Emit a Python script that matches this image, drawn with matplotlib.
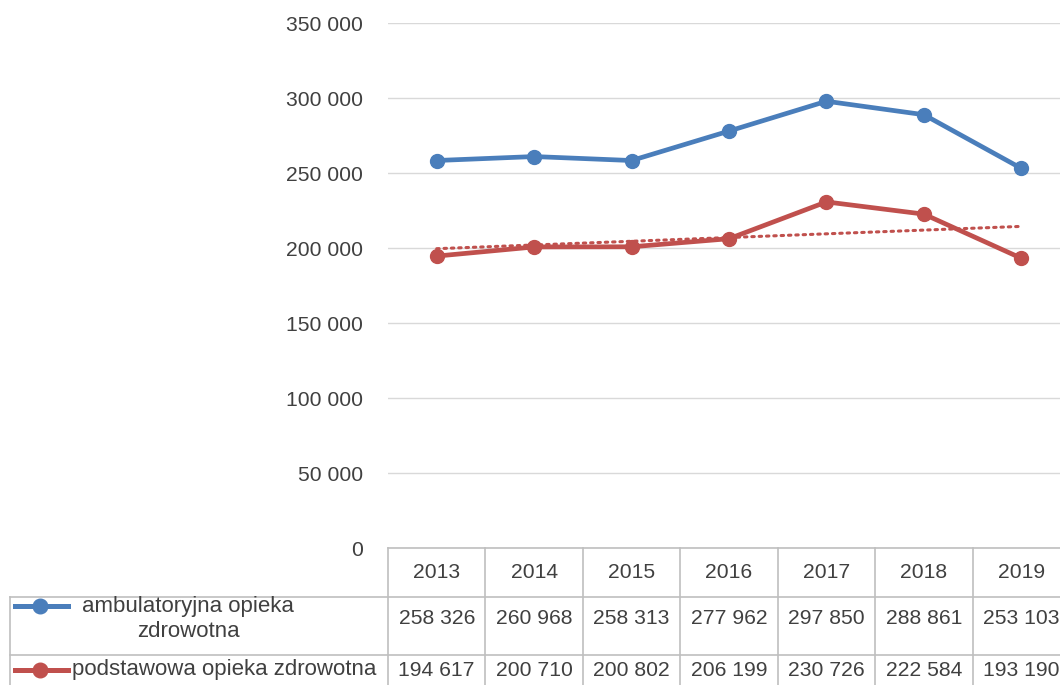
import matplotlib
matplotlib.use("Agg")
import matplotlib.pyplot as plt
import matplotlib.transforms as mtransforms
import numpy as np

plt.rcParams['font.family'] = ['Liberation Sans', 'DejaVu Sans']

# --- DATA ---
years = ["2013", "2014", "2015", "2016", "2017", "2018", "2019"]
ambulatoryjna = [258326, 260968, 258313, 277962, 297850, 288861, 253103]
podstawowa = [194617, 200710, 200802, 206199, 230726, 222584, 193190]
series_names = ["ambulatoryjna opieka\nzdrowotna", "podstawowa opieka zdrowotna"]
yticks = [0, 50000, 100000, 150000, 200000, 250000, 300000, 350000]

BLUE = "#4A7EBB"
RED = "#C0504D"
GRID = "#D9D9D9"
TXT = "#404040"
FS = 15.2
FS_LAB = 16


def fmt(v):
    return f"{v:,}".replace(",", " ")


W, H = 1060, 685
fig = plt.figure(figsize=(W / 100, H / 100), dpi=100)
# plot area in pixels: x 388..1070 (runs past the right edge), y 23..548
ax = fig.add_axes([388 / W, 1 - 548 / H, 682 / W, 525 / H])
x = np.arange(len(years))

ax.set_xlim(-0.5, len(years) - 0.5)
ax.set_ylim(0, 350000)
ax.set_yticks(yticks)
ax.set_yticklabels([fmt(v) for v in yticks], fontsize=FS, color=TXT)
ax.set_xticks([])
ax.tick_params(axis='y', length=0, pad=18)
for s in ax.spines.values():
    s.set_visible(False)
ax.grid(axis='y', color=GRID, linewidth=1.0)
ax.set_axisbelow(True)

ax.plot(x, ambulatoryjna, color=BLUE, linewidth=3.4, marker='o',
        markersize=10, zorder=3, clip_on=False)
ax.plot(x, podstawowa, color=RED, linewidth=3.4, marker='o',
        markersize=10, zorder=3, clip_on=False)

# linear trend of podstawowa
k, b = np.polyfit(x, podstawowa, 1)
ax.plot(x, k * x + b, color=RED, linewidth=2.2, linestyle=(0, (0.8, 1.6)),
        dash_capstyle='round', zorder=2)

# --- DATA TABLE below the plot ---
tab = fig.add_axes([0, 0, 1, 1], facecolor='none')
tab.set_xlim(0, W)
tab.set_ylim(H, 0)
tab.axis('off')
tr = mtransforms.blended_transform_factory(ax.transData, tab.transData)

LINE = "#BFBFBF"
y_head, y_r1, y_r2, y_bot = 548, 597, 655, 690
tab.plot([388, W], [y_head, y_head], color=LINE, lw=1.2)
tab.plot([10, W], [y_r1, y_r1], color=LINE, lw=1.2)
tab.plot([10, W], [y_r2, y_r2], color=LINE, lw=1.2)
tab.plot([10, 10], [y_r1, y_bot], color=LINE, lw=1.2)
for i in range(len(years)):
    tab.plot([i - 0.5, i - 0.5], [y_head, y_bot], color=LINE, lw=1.2,
             transform=tr, clip_on=False)

for i, yr in enumerate(years):
    tab.text(i, 572, yr, transform=tr, ha='center', va='center',
             fontsize=FS, color=TXT)
    tab.text(i, 618, fmt(ambulatoryjna[i]), transform=tr, ha='center',
             va='center', fontsize=FS, color=TXT)
    tab.text(i, 670, fmt(podstawowa[i]), transform=tr, ha='center',
             va='center', fontsize=FS, color=TXT)

# series labels with legend keys
tab.plot([15, 68], [606, 606], color=BLUE, lw=3.6)
tab.plot([40], [606], marker='o', color=BLUE, markersize=10.5)
tab.text(188, 619, series_names[0], ha='center', va='center',
         fontsize=FS_LAB, color=TXT, multialignment='center', linespacing=1.3)
tab.plot([15, 68], [670, 670], color=RED, lw=3.6)
tab.plot([40], [670], marker='o', color=RED, markersize=10.5)
tab.text(72, 670, series_names[1], ha='left', va='center',
         fontsize=FS_LAB, color=TXT)

fig.savefig("out.png", dpi=100)
